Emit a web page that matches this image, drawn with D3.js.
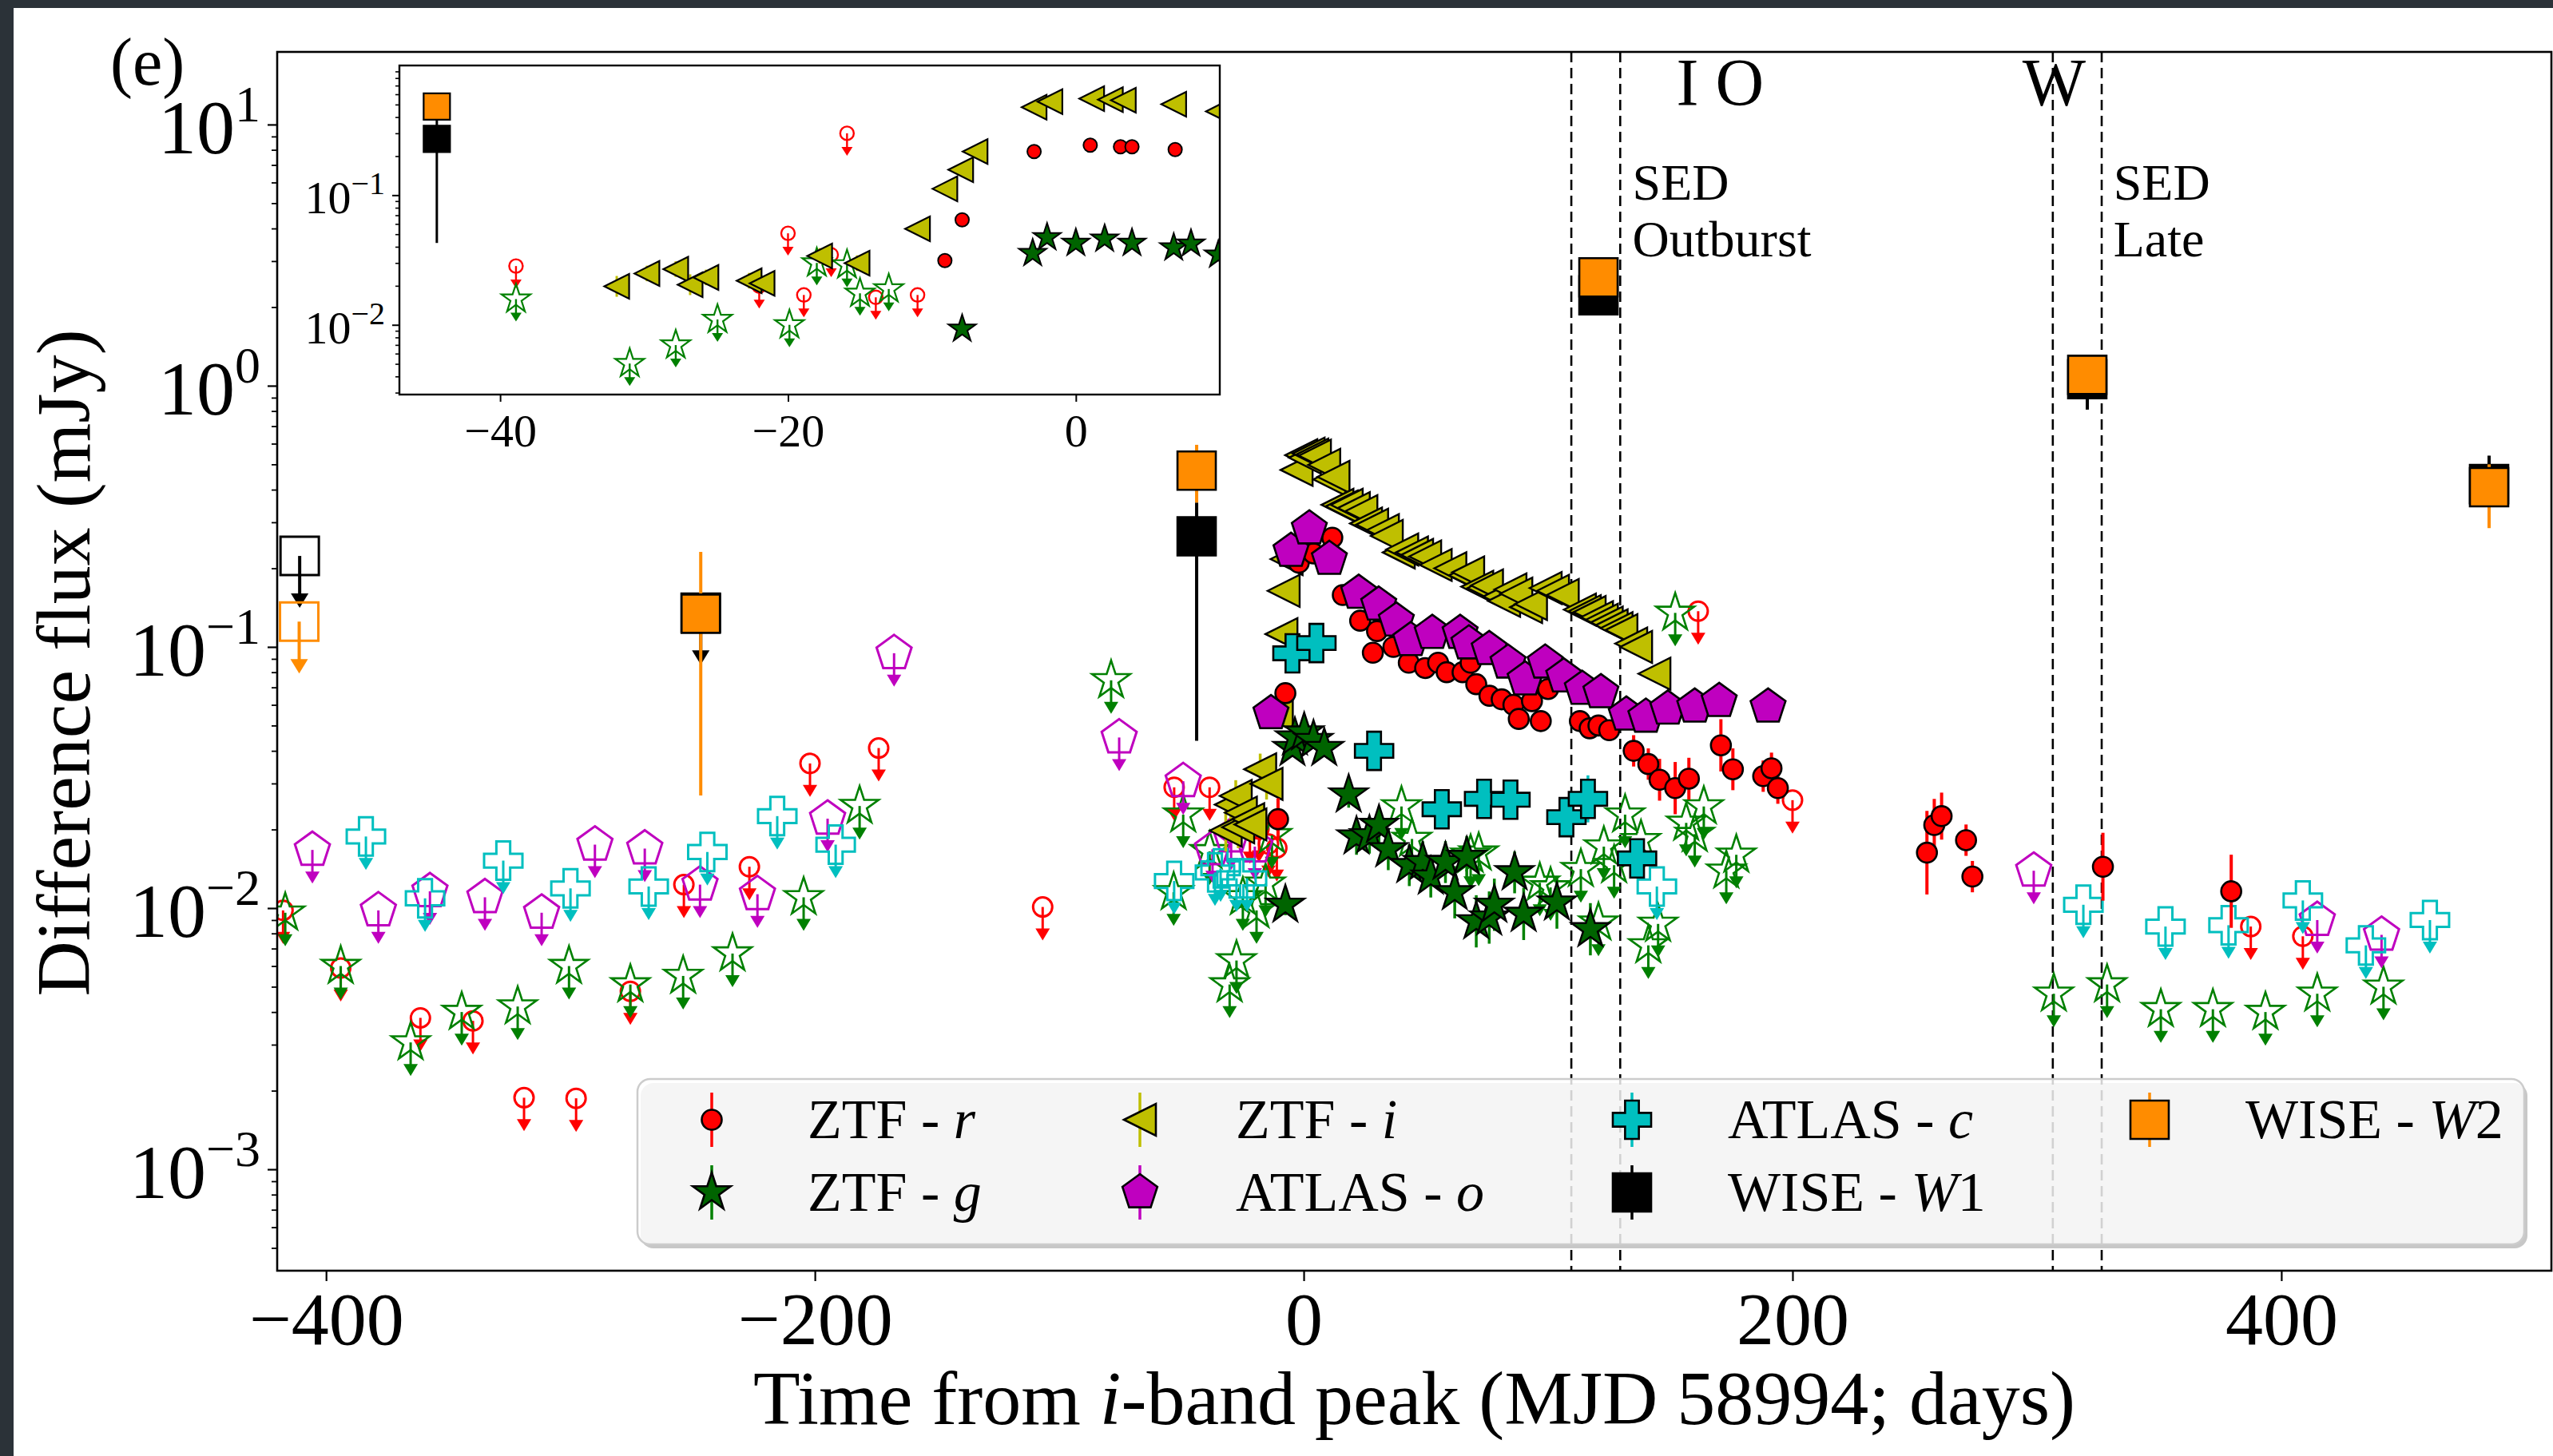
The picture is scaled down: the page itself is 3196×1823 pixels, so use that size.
<!DOCTYPE html>
<html><head><meta charset="utf-8">
<script src="https://cdn.jsdelivr.net/npm/d3@7"></script>
<style>html,body{margin:0;padding:0;background:#fff;} svg{display:block;}</style>
</head><body>
<svg id="c" width="3196" height="1823"></svg>
<script>
// ---------------- DATA (day from i-band peak, flux in mJy, [err in dex] or [lo, hi]) ----------------
const ztfR = [[-10.5,0.0219,0.08],[-7.5,0.0665,0.03],[-2,0.21,0.02],[4,0.228,0.02],[11.7,0.262,0.02],[16,0.158,0.02],[23.1,0.126,0.02],[28.3,0.095,0.02],[30,0.115,0.02],[36.7,0.1,0.02],[43,0.087,0.02],[49.7,0.083,0.02],[55,0.087,0.02],[58.5,0.08,0.02],[65,0.08,0.02],[68.3,0.087,0.02],[70.6,0.072,0.03],[76,0.065,0.03],[81,0.063,0.03],[85.8,0.06,0.03],[88,0.053,0.03],[93.4,0.062,0.03],[97,0.052,0.03],[100,0.069,0.03],[113,0.052,0.04],[117,0.0488,0.04],[120.6,0.05,0.04],[125,0.048,0.04],[135,0.04,0.06],[141,0.0356,0.06],[145.6,0.031,0.08],[152,0.0288,0.1],[157.6,0.0313,0.08],[170.7,0.042,0.1],[175.6,0.034,0.08],[188,0.032,0.06],[191.4,0.0343,0.06],[194,0.0288,0.06],[255,0.0163,0.16],[258,0.0208,0.1],[261,0.0225,0.09],[271,0.0182,0.06],[273.6,0.0132,0.06],[327,0.0144,0.13],[379.5,0.0116,0.14]];
const ztfRUL = [[-417.6,0.0098],[-394,0.0059],[-361.4,0.0038],[-339.9,0.0037],[-319,0.00188],[-297.7,0.00187],[-275.5,0.0048],[-253.6,0.0123],[-226.8,0.0144],[-202,0.0358],[-173.9,0.041],[-106.8,0.0101],[-53,0.029],[-38.5,0.029],[-22,0.0199],[-18.3,0.0201],[-14.4,0.0176],[-11,0.017],[161.4,0.137],[200,0.0259],[387.5,0.0085],[408.8,0.0078]];
const ztfG = [[-7.5,0.0103,0.04],[-4.6,0.041,0.03],[-3.6,0.045,0.03],[0.2,0.047,0.03],[4,0.044,0.03],[8.4,0.041,0.03],[18.4,0.0272,0.05],[21.6,0.0188,0.07],[26.9,0.019,0.07],[30.8,0.0208,0.07],[34.6,0.0168,0.08],[43.2,0.0146,0.08],[48.7,0.015,0.08],[52,0.0132,0.08],[58,0.015,0.08],[61.8,0.0115,0.1],[66.7,0.0157,0.08],[70.6,0.0089,0.1],[75.9,0.0092,0.1],[78,0.0103,0.1],[86.3,0.0137,0.08],[90,0.0095,0.1],[103.6,0.0105,0.1],[117.3,0.0083,0.1]];
const ztfGUL = [[-416.7,0.0096],[-394,0.006],[-365.4,0.00306],[-344.5,0.004],[-321.6,0.0042],[-300.6,0.006],[-275.5,0.0051],[-253.9,0.0055],[-233.7,0.0067],[-204.6,0.011],[-181.7,0.0246],[-78.8,0.0745],[-53.2,0.0115],[-49.3,0.0228],[-38.5,0.0165],[-30.3,0.0051],[-27.5,0.0063],[-24.9,0.011],[-19.3,0.0098],[-15.6,0.0124],[-13,0.019],[40,0.0245],[44.3,0.0184],[68.3,0.016],[71.6,0.0163],[96.6,0.0125],[101,0.012],[113.4,0.0141],[120.6,0.0088],[122.8,0.0172],[127,0.0146],[131.5,0.0228],[138,0.0182],[141,0.0072],[145,0.0087],[152,0.135],[156.5,0.0212],[160,0.0192],[163.7,0.0245],[172.9,0.0139],[177,0.016],[306.9,0.0047],[328.7,0.0051],[350.7,0.0041],[372,0.0041],[393.5,0.004],[414.7,0.0047],[441.8,0.005]];
const ztfI = [[-31.9,0.0198,0.08],[-29.8,0.0249,0.06],[-27.8,0.0269,0.06],[-26.8,0.0204,0.08],[-25.7,0.0232,0.06],[-22.7,0.0219,0.06],[-21.8,0.0209,0.06],[-17.8,0.034,0.06],[-15.2,0.0299,0.06],[-11,0.055,0.03],[-9.1,0.112,0.02],[-8.2,0.164,0.02],[-7,0.217,0.02],[-2.9,0.476],[-1,0.542],[0.5,0.53],[2,0.55],[3.5,0.545],[4.6,0.54],[8.4,0.498],[10.5,0.438],[12.2,0.448],[13.8,0.35],[15.5,0.345],[17.6,0.35],[20.5,0.34],[23.6,0.331],[25.5,0.297],[28,0.294],[32.4,0.28],[34,0.266],[38.9,0.23],[40.3,0.236],[44.3,0.23],[46.4,0.225],[49.7,0.222],[54,0.206],[60,0.2],[66,0.188],[67.3,0.193],[71,0.17],[73.6,0.168],[75,0.172],[80,0.156],[82,0.15],[84.6,0.166],[87,0.16],[91,0.142],[93,0.146],[99,0.168],[102,0.164],[106,0.158],[113,0.139],[115,0.137],[117,0.136],[120,0.13],[122,0.127],[124,0.124],[126,0.121],[128,0.118],[130,0.116],[134,0.103],[136,0.1],[143.5,0.079]];
const atlasO = [[-13.4,0.0557],[-5.2,0.233],[2.3,0.284],[10.5,0.217],[22.5,0.161],[30.7,0.145],[37.9,0.126],[43.8,0.106],[52.6,0.113],[64,0.113],[67.6,0.103],[75.9,0.098],[83.6,0.087],[90.6,0.075],[98.8,0.087],[106.4,0.077],[114,0.069],[121.6,0.067],[132,0.055],[140,0.054],[149,0.058],[160,0.059],[170,0.062],[190,0.059]];
const atlasOUL = [[-405.6,0.0167],[-378.6,0.0098],[-357.5,0.0116],[-335,0.011],[-311.8,0.0096],[-290,0.0175],[-269.6,0.0169],[-247,0.0123],[-223.5,0.0113],[-194.8,0.022],[-167.6,0.0946],[-75.5,0.045],[-49.3,0.0306],[-37.3,0.0168],[-29.7,0.0188],[-20,0.0172],[298.7,0.0139],[414.7,0.009],[441,0.0079]];
const atlasC = [[-4.6,0.0945,0.02],[5.2,0.1035,0.02],[28.8,0.04,0.03],[56.5,0.0239,0.04],[73.8,0.0262,0.04],[84.6,0.026,0.05],[107.5,0.0223,0.06],[116.3,0.0262,0.09],[136.4,0.0155,0.06]];
const atlasCUL = [[-383.7,0.0188],[-359.5,0.0109],[-327.5,0.0152],[-300,0.0119],[-268,0.0121],[-244,0.0164],[-215.4,0.0225],[-191.5,0.0175],[-53,0.0127],[-36.3,0.0137],[-34,0.0142],[-27.5,0.013],[-23.2,0.013],[144.5,0.0121],[319,0.0103],[352.6,0.0085],[378.4,0.0086],[408.8,0.0107],[434.6,0.0072],[460.8,0.009]];
const wiseW1 = [[-43.8,0.265,0.0437,0.357],[120.6,2.22],[320.6,1.06,0.81,1.25],[485,0.42,0.38,0.54]];
const wiseW1UL = [[-410.8,0.223],[-246.7,0.135]];
const wiseW2 = [[-246.7,0.134,0.027,0.231],[-43.8,0.473,0.357,0.594],[120.6,2.6],[320.6,1.1],[485,0.409,0.285,0.5]];
const wiseW2UL = [[-411,0.125]];
// inset (zoom on the rise)
const inI = [[-31.9,0.0198,0.08],[-29.8,0.0249,0.06],[-27.8,0.0269,0.06],[-26.8,0.0204,0.08],[-25.7,0.0232,0.06],[-22.7,0.0219,0.06],[-21.8,0.0209,0.06],[-17.8,0.034,0.06],[-15.2,0.0299,0.06],[-11,0.055,0.03],[-9.1,0.112,0.02],[-8,0.157,0.02],[-7,0.217,0.02],[-2.9,0.476],[-1.8,0.527],[1.1,0.555],[2.4,0.546],[3.3,0.54],[6.8,0.502],[9.9,0.443]];
const inR = [[-9.1,0.0313],[-7.9,0.0646],[-2.9,0.217],[1,0.243],[3.1,0.236],[3.9,0.236],[6.9,0.225]];
const inRUL = [[-38.9,0.0284],[-22,0.0199],[-20,0.0508],[-18.9,0.017],[-17,0.0347],[-15.9,0.30],[-13.9,0.0163],[-11,0.017]];
const inG = [[-7.9,0.0093],[-3,0.0356],[-2,0.0472],[0,0.0427],[2,0.046],[3.9,0.0427],[6.8,0.0394],[8,0.0422],[9.9,0.0347]];
const inGUL = [[-38.9,0.0158],[-31,0.00503],[-27.8,0.00698],[-24.9,0.011],[-19.9,0.01],[-18,0.03],[-15.9,0.029],[-15,0.0175],[-13,0.0189]];
const inW1 = [[-44.4,0.272,0.0428,0.4]];
const inW2 = [[-44.4,0.482,0.4,0.52]];
// epochs / annotations
const sedLines = [109.5, 129.5, 306.5, 326.5];
const epochLabels = [["I",157],["O",178.4],["W",307]];
const sedLabels = [[134.5,"SED","Outburst"],[331.3,"SED","Late"]];
const xTicks = [-400,-200,0,200,400];
const yTicks = [1e-3,1e-2,1e-1,1,10];
const yTickExp = ["−3","−2","−1","0","1"];
const inXTicks = [-40,-20,0];
const inYTicks = [1e-2,1e-1];
const inYTickExp = ["−2","−1"];

// ---------------- SETUP ----------------
const FONT = "'Liberation Serif','Times New Roman',serif";
const svg = d3.select('#c');
svg.append('rect').attr('width',3196).attr('height',1823).attr('fill','#2b3238');
svg.append('rect').attr('x',17).attr('y',10).attr('width',3179).attr('height',1813).attr('fill','#fff');

const M = {l:347, r:3194, t:65, b:1591};
const x = d3.scaleLinear().domain([-420,510.5]).range([M.l,M.r]);
const y = d3.scaleLog().domain([0.000409,18.97]).range([M.b,M.t]);

const COL = {r:'#ff0000', g:'#008000', gd:'#006400', i:'#bfbf00', o:'#bf00bf', c:'#00bfbf', w1:'#000000', w2:'#ff8c00'};

function sym(type, s){
  const R = s/2;
  if(type==='circle') return `M${R},0A${R},${R} 0 1,1 ${-R},0A${R},${R} 0 1,1 ${R},0Z`;
  if(type==='square') return `M${-R},${-R}H${R}V${R}H${-R}Z`;
  if(type==='tri') return `M${-R},0L${R},${-R}L${R},${R}Z`;
  if(type==='plus'){ const w=R*0.36; return `M${-w},${-R}H${w}V${-w}H${R}V${w}H${w}V${R}H${-w}V${w}H${-R}V${-w}H${-w}Z`; }
  if(type==='pent'){ const p=[]; for(let k=0;k<5;k++){const a=(-90+72*k)*Math.PI/180; p.push([R*Math.cos(a),R*Math.sin(a)]);} return 'M'+p.map(q=>q.join(',')).join('L')+'Z'; }
  if(type==='star'){ const p=[]; for(let k=0;k<10;k++){const a=(-90+36*k)*Math.PI/180; const rr=k%2?R*0.381966:R; p.push([rr*Math.cos(a),rr*Math.sin(a)]);} return 'M'+p.map(q=>q.join(',')).join('L')+'Z'; }
}

function drawDet(g, data, xs, ys, o){
  const gg = g.append('g');
  data.forEach(d=>{
    let lo=null, hi=null;
    if(d.length===4){lo=d[2];hi=d[3];}
    else if(d.length===3){lo=d[1]/Math.pow(10,d[2]);hi=d[1]*Math.pow(10,d[2]);}
    if(lo!==null) gg.append('line').attr('x1',xs(d[0])).attr('x2',xs(d[0])).attr('y1',ys(lo)).attr('y2',ys(hi))
      .attr('stroke',o.ecolor).attr('stroke-width',o.ew);
  });
  gg.selectAll('path.m').data(data).join('path').attr('class','m')
    .attr('d',sym(o.type,o.size)).attr('transform',d=>`translate(${xs(d[0])},${ys(d[1])})`)
    .attr('fill',o.fill).attr('stroke','#000').attr('stroke-width',o.sw).attr('stroke-linejoin','miter');
}
function drawUL(g, data, xs, ys, o){
  const gg = g.append('g');
  data.forEach(d=>{
    const cx=xs(d[0]), cy=ys(d[1]);
    gg.append('path').attr('d',sym(o.type,o.size)).attr('transform',`translate(${cx},${cy})`)
      .attr('fill','none').attr('stroke',o.color).attr('stroke-width',o.sw);
    gg.append('line').attr('x1',cx).attr('x2',cx).attr('y1',cy).attr('y2',cy+o.len-o.hh+1)
      .attr('stroke',o.color).attr('stroke-width',o.lw);
    gg.append('path').attr('d',`M${cx-o.hw},${cy+o.len-o.hh}L${cx+o.hw},${cy+o.len-o.hh}L${cx},${cy+o.len}Z`).attr('fill',o.color);
  });
}
// right-align a text element's bounding box to a given x
function alignRight(t, xr){
  const bb = t.node().getBBox();
  const cur = +t.attr('x');
  t.attr('x', cur + (xr - (bb.x + bb.width)));
}

// ---------------- MAIN AXES ----------------
svg.append('clipPath').attr('id','mclip').append('rect').attr('x',M.l).attr('y',M.t).attr('width',M.r-M.l).attr('height',M.b-M.t);
const plot = svg.append('g').attr('clip-path','url(#mclip)');

plot.selectAll('line.sed').data(sedLines).join('line').attr('class','sed')
  .attr('x1',d=>x(d)).attr('x2',d=>x(d)).attr('y1',M.t).attr('y2',M.b)
  .attr('stroke','#000').attr('stroke-width',2.6).attr('stroke-dasharray','13,7');

const ul = {len:42, hh:15, hw:9, lw:3, sw:3};
drawUL(plot, ztfRUL, x, y, {...ul, type:'circle', size:24, color:COL.r});
drawUL(plot, ztfGUL, x, y, {...ul, type:'star', size:50, color:COL.g, sw:2.6});
drawUL(plot, atlasOUL, x, y, {...ul, type:'pent', size:46, color:COL.o});
drawUL(plot, atlasCUL, x, y, {...ul, type:'plus', size:48, color:COL.c});
drawUL(plot, wiseW1UL, x, y, {...ul, len:65, hh:18, hw:11, type:'square', size:48, color:COL.w1, lw:4});
drawUL(plot, wiseW2UL, x, y, {...ul, len:65, hh:18, hw:11, type:'square', size:48, color:COL.w2, lw:4});

drawDet(plot, ztfI, x, y, {type:'tri', size:40, fill:COL.i, ecolor:COL.i, ew:3.5, sw:2.4});
drawDet(plot, ztfR, x, y, {type:'circle', size:25, fill:COL.r, ecolor:COL.r, ew:4, sw:2.6});
drawDet(plot, atlasO, x, y, {type:'pent', size:46, fill:COL.o, ecolor:COL.o, ew:3.5, sw:2.6});
drawDet(plot, ztfG, x, y, {type:'star', size:50, fill:COL.gd, ecolor:COL.g, ew:3.5, sw:2.4});
drawDet(plot, atlasC, x, y, {type:'plus', size:48, fill:COL.c, ecolor:COL.c, ew:3.5, sw:2.6});
drawDet(plot, wiseW1, x, y, {type:'square', size:48, fill:COL.w1, ecolor:COL.w1, ew:4, sw:2.6});
drawDet(plot, wiseW2, x, y, {type:'square', size:48, fill:COL.w2, ecolor:COL.w2, ew:4, sw:2.6});

svg.append('rect').attr('x',M.l).attr('y',M.t).attr('width',M.r-M.l).attr('height',M.b-M.t)
  .attr('fill','none').attr('stroke','#000').attr('stroke-width',2.6);

// x axis
const xAx = svg.append('g').attr('transform',`translate(0,${M.b})`)
  .call(d3.axisBottom(x).tickValues(xTicks).tickSize(13).tickPadding(12).tickFormat(d=>d<0?'−'+Math.abs(d):String(d)));
xAx.select('.domain').remove();
xAx.selectAll('line').attr('stroke-width',2.2);
xAx.selectAll('text').attr('font-family',FONT).attr('font-size',94).attr('fill','#000');

// y axis (major + minor)
const yMinor = [];
for(let e=-4;e<=1;e++) for(let k=2;k<=9;k++){ const v=k*Math.pow(10,e); if(v>0.000409 && v<18.97) yMinor.push(v); }
const yAx = svg.append('g').attr('transform',`translate(${M.l},0)`)
  .call(d3.axisLeft(y).tickValues(yTicks).tickSize(12).tickFormat(''));
yAx.select('.domain').remove(); yAx.selectAll('line').attr('stroke-width',2.2);
const yAx2 = svg.append('g').attr('transform',`translate(${M.l},0)`)
  .call(d3.axisLeft(y).tickValues(yMinor).tickSize(7).tickFormat(''));
yAx2.select('.domain').remove(); yAx2.selectAll('line').attr('stroke-width',1.8);
yTicks.forEach((v,i)=>{
  const t = svg.append('text').attr('x',330).attr('y',y(v)+36)
    .attr('font-family',FONT).attr('font-size',96).attr('fill','#000');
  t.append('tspan').text('10');
  t.append('tspan').attr('dy',-40).attr('font-size',64).text(yTickExp[i]);
  alignRight(t, 326);
});

// axis labels
svg.append('text').attr('x',(M.l+M.r)/2).attr('y',1783).attr('text-anchor','middle')
  .attr('font-family',FONT).attr('font-size',96).attr('fill','#000')
  .call(t=>{ t.append('tspan').text('Time from '); t.append('tspan').attr('font-style','italic').text('i');
             t.append('tspan').text('-band peak (MJD 58994; days)'); });
svg.append('text').attr('transform','translate(112,830) rotate(-90)').attr('text-anchor','middle')
  .attr('font-family',FONT).attr('font-size',96).attr('fill','#000').text('Difference flux (mJy)');
svg.append('text').attr('x',138).attr('y',106).attr('font-family',FONT).attr('font-size',84).attr('fill','#000').text('(e)');

// epoch labels
epochLabels.forEach(([s,d])=>{
  svg.append('text').attr('x',x(d)).attr('y',132).attr('text-anchor','middle')
    .attr('font-family',FONT).attr('font-size',84).attr('fill','#000').text(s);
});
sedLabels.forEach(([d,a,b])=>{
  svg.append('text').attr('x',x(d)).attr('y',250).attr('font-family',FONT).attr('font-size',64).attr('fill','#000').text(a);
  svg.append('text').attr('x',x(d)).attr('y',321).attr('font-family',FONT).attr('font-size',64).attr('fill','#000').text(b);
});

// ---------------- LEGEND ----------------
const lg = svg.append('g');
lg.append('rect').attr('x',802).attr('y',1356).attr('width',2362).attr('height',207).attr('rx',16)
  .attr('fill','#000').attr('opacity',0.22);
lg.append('rect').attr('x',798).attr('y',1351).attr('width',2362).attr('height',207).attr('rx',16)
  .attr('fill','#fff').attr('fill-opacity',0.82).attr('stroke','#cccccc').attr('stroke-width',2.5);
const legItems = [
  {pre:'ZTF - ', it:'r', post:'', type:'circle', size:25, fill:COL.r, lc:COL.r, col:0, row:0},
  {pre:'ZTF - ', it:'g', post:'', type:'star', size:50, fill:COL.gd, lc:COL.g, col:0, row:1},
  {pre:'ZTF - ', it:'i', post:'', type:'tri', size:40, fill:COL.i, lc:COL.i, col:1, row:0},
  {pre:'ATLAS - ', it:'o', post:'', type:'pent', size:46, fill:COL.o, lc:COL.o, col:1, row:1},
  {pre:'ATLAS - ', it:'c', post:'', type:'plus', size:48, fill:COL.c, lc:COL.c, col:2, row:0},
  {pre:'WISE - ', it:'W', post:'1', type:'square', size:48, fill:COL.w1, lc:COL.w1, col:2, row:1},
  {pre:'WISE - ', it:'W', post:'2', type:'square', size:48, fill:COL.w2, lc:COL.w2, col:3, row:0}
];
const legColX = [891,1427,2043,2691], legRowY = [1402,1493], legTextDx = 120;
legItems.forEach(it=>{
  const cx = legColX[it.col], cy = legRowY[it.row];
  lg.append('line').attr('x1',cx).attr('x2',cx).attr('y1',cy-34).attr('y2',cy+34).attr('stroke',it.lc).attr('stroke-width',3.5);
  lg.append('path').attr('d',sym(it.type,it.size)).attr('transform',`translate(${cx},${cy})`)
    .attr('fill',it.fill).attr('stroke','#000').attr('stroke-width',2.6);
  const t = lg.append('text').attr('x',cx+legTextDx).attr('y',cy+23).attr('font-family',FONT).attr('font-size',70).attr('fill','#000');
  t.append('tspan').text(it.pre);
  t.append('tspan').attr('font-style','italic').text(it.it);
  if(it.post) t.append('tspan').text(it.post);
});

// ---------------- INSET ----------------
const I = {l:500, r:1527, t:82, b:494};
const xi = d3.scaleLinear().domain([-47,10]).range([I.l,I.r]);
const yi = d3.scaleLog().domain([0.0029,1.0]).range([I.b,I.t]);
svg.append('rect').attr('x',I.l).attr('y',I.t).attr('width',I.r-I.l).attr('height',I.b-I.t).attr('fill','#fff');
svg.append('clipPath').attr('id','iclip').append('rect').attr('x',I.l).attr('y',I.t).attr('width',I.r-I.l).attr('height',I.b-I.t);
const ip = svg.append('g').attr('clip-path','url(#iclip)');
const iul = {len:28, hh:11, hw:7, lw:2.4, sw:2.4};
drawUL(ip, inRUL, xi, yi, {...iul, type:'circle', size:17, color:COL.r});
drawUL(ip, inGUL, xi, yi, {...iul, type:'star', size:38, color:COL.g, sw:2.2});
drawDet(ip, inI, xi, yi, {type:'tri', size:31, fill:COL.i, ecolor:COL.i, ew:3, sw:2.2});
drawDet(ip, inR, xi, yi, {type:'circle', size:17, fill:COL.r, ecolor:COL.r, ew:3, sw:2});
drawDet(ip, inG, xi, yi, {type:'star', size:36, fill:COL.gd, ecolor:COL.g, ew:3, sw:2});
drawDet(ip, inW1, xi, yi, {type:'square', size:33, fill:COL.w1, ecolor:COL.w1, ew:3, sw:2.2});
drawDet(ip, inW2, xi, yi, {type:'square', size:33, fill:COL.w2, ecolor:COL.w2, ew:3, sw:2.2});
svg.append('rect').attr('x',I.l).attr('y',I.t).attr('width',I.r-I.l).attr('height',I.b-I.t)
  .attr('fill','none').attr('stroke','#000').attr('stroke-width',2.4);
const ixAx = svg.append('g').attr('transform',`translate(0,${I.b})`)
  .call(d3.axisBottom(xi).tickValues(inXTicks).tickSize(9).tickPadding(15).tickFormat(d=>d<0?'−'+Math.abs(d):String(d)));
ixAx.select('.domain').remove(); ixAx.selectAll('line').attr('stroke-width',2);
ixAx.selectAll('text').attr('font-family',FONT).attr('font-size',58).attr('fill','#000');
const iMinor = [];
for(let e=-3;e<=0;e++) for(let k=2;k<=9;k++){ const v=k*Math.pow(10,e); if(v>0.0029 && v<0.99) iMinor.push(v); }
const iyAx = svg.append('g').attr('transform',`translate(${I.l},0)`)
  .call(d3.axisLeft(yi).tickValues(inYTicks).tickSize(9).tickFormat(''));
iyAx.select('.domain').remove(); iyAx.selectAll('line').attr('stroke-width',2);
const iyAx2 = svg.append('g').attr('transform',`translate(${I.l},0)`)
  .call(d3.axisLeft(yi).tickValues(iMinor).tickSize(5).tickFormat(''));
iyAx2.select('.domain').remove(); iyAx2.selectAll('line').attr('stroke-width',1.6);
inYTicks.forEach((v,i)=>{
  const t = svg.append('text').attr('x',481).attr('y',yi(v)+23)
    .attr('font-family',FONT).attr('font-size',58).attr('fill','#000');
  t.append('tspan').text('10');
  t.append('tspan').attr('dy',-24).attr('font-size',40).text(inYTickExp[i]);
  alignRight(t, 482);
});
</script>
</body></html>
